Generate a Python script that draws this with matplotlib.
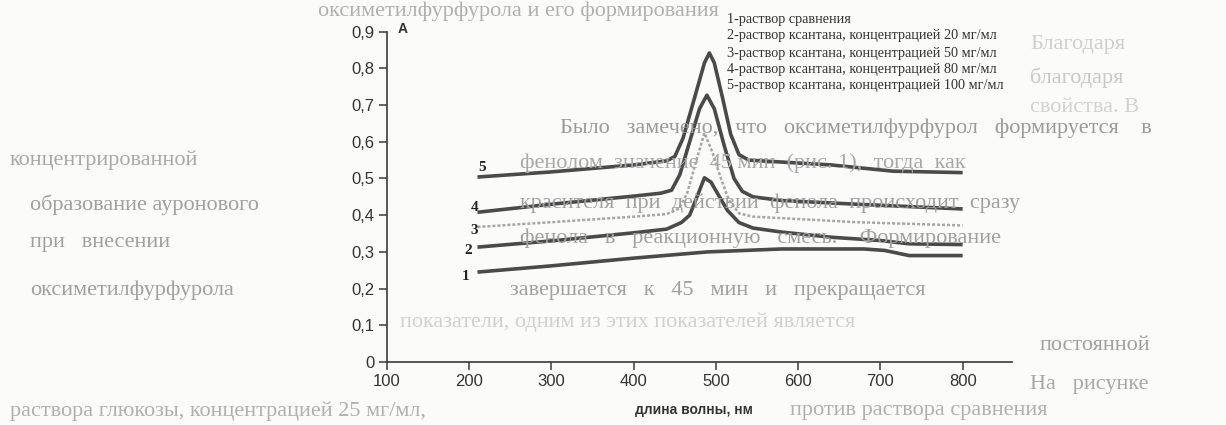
import numpy as np
import matplotlib
matplotlib.use("Agg")
import matplotlib.pyplot as plt
from matplotlib.ticker import FuncFormatter

# spectra (wavelength, nm / absorbance)
wl1 = [210, 300, 400, 490, 580, 680, 705, 735, 800]
a1 = [0.245, 0.262, 0.283, 0.300, 0.308, 0.308, 0.304, 0.290, 0.290]

wl2 = [210, 300, 400, 440, 458, 468, 477, 486, 494, 503, 514, 528, 545, 580, 640, 700, 735, 800]
a2 = [0.313, 0.330, 0.352, 0.362, 0.380, 0.400, 0.450, 0.502, 0.490, 0.455, 0.413, 0.380, 0.365, 0.354, 0.340, 0.331, 0.322, 0.320]

wl3 = [210, 300, 400, 440, 455, 465, 475, 486, 496, 506, 516, 528, 545, 580, 670, 800]
a3 = [0.368, 0.381, 0.396, 0.403, 0.418, 0.460, 0.540, 0.624, 0.570, 0.500, 0.440, 0.405, 0.396, 0.392, 0.381, 0.372]

wl4 = [210, 300, 400, 433, 446, 456, 468, 480, 489, 498, 510, 522, 532, 545, 580, 670, 800]
a4 = [0.408, 0.430, 0.452, 0.460, 0.468, 0.510, 0.600, 0.690, 0.727, 0.690, 0.590, 0.500, 0.465, 0.450, 0.440, 0.430, 0.417]

wl5 = [210, 300, 400, 440, 450, 460, 474, 486, 492, 498, 508, 518, 528, 540, 640, 715, 800]
a5 = [0.504, 0.518, 0.537, 0.548, 0.560, 0.610, 0.720, 0.815, 0.842, 0.815, 0.720, 0.620, 0.565, 0.550, 0.537, 0.520, 0.516]

curve_labels = ["1", "2", "3", "4", "5"]
label_x = [196, 199, 206, 206, 216]
label_y = [0.233, 0.305, 0.358, 0.422, 0.530]

legend_lines = [
    "1-раствор сравнения",
    "2-раствор ксантана, концентрацией 20 мг/мл",
    "3-раствор ксантана, концентрацией 50 мг/мл",
    "4-раствор ксантана, концентрацией 80 мг/мл",
    "5-раствор ксантана, концентрацией 100 мг/мл",
]

# faint page text of the scan behind the figure, split round the chart labels
page_text = [
    (318, 11, "оксиметилфурфурола и его формирования", "#b0b0b0"),
    (1030, 45, "Благодаря", "#cfcfcf"),
    (1030, 78, "благодаря", "#c8c8c8"),
    (1030, 108, "свойства. В", "#d2d2d2"),
    (560, 128, "Было   замечено,   что   оксиметилфурфурол   формируется    в", "#9a9a9a"),
    (10, 160, "концентрированной", "#a8a8a8"),
    (520, 163, "фенолом  значение  45 мин  (рис. 1),  тогда  как", "#a8a8a8"),
    (30, 205, "образование ауронового", "#a0a0a0"),
    (520, 203, "красителя  при  действии  фенола  происходит  сразу", "#a0a0a0"),
    (30, 242, "при   внесении", "#a0a0a0"),
    (520, 238, "фенола   в   реакционную   смесь.    Формирование", "#a0a0a0"),
    (30, 290, "оксиметилфурфурола", "#a0a0a0"),
    (510, 290, "завершается   к   45   мин   и   прекращается", "#a0a0a0"),
    (400, 322, "показатели, одним из этих показателей является", "#d0d0d0"),
    (1040, 345, "постоянной", "#a0a0a0"),
    (1030, 385, "На   рисунке", "#a8a8a8"),
    (10, 411, "раствора глюкозы, концентрацией 25 мг/мл,", "#b0b0b0"),
    (790, 411, "против раствора сравнения", "#b0b0b0"),
]

W, H = 1226, 425
fig = plt.figure(figsize=(W / 100, H / 100), dpi=100)
fig.patch.set_facecolor("#fbfbfa")

for px, py, s, c in page_text:
    fig.text(px / W, 1 - py / H, s, fontsize=16, family="Liberation Serif",
             color=c, ha="left", va="center", zorder=0)

ax = fig.add_axes([387 / W, 1 - 362 / H, (1012 - 387) / W, (362 - 31.7) / H])
ax.patch.set_alpha(0)

dark = "#4a4a4a"
ax.plot(wl1, a1, color=dark, lw=2.6, solid_capstyle="butt")
ax.plot(wl2, a2, color=dark, lw=2.6, solid_capstyle="butt")
ax.plot(wl3, a3, color="#a6a6a6", lw=1.8, ls=(0, (1.2, 0.8)))
ax.plot(wl4, a4, color=dark, lw=2.6, solid_capstyle="butt")
ax.plot(wl5, a5, color=dark, lw=2.6, solid_capstyle="butt")

for lab, lx, ly in zip(curve_labels, label_x, label_y):
    ax.text(lx, ly, lab, fontsize=11, fontweight="bold", family="Liberation Serif",
            color="#222222", ha="center", va="center")

ax.set_xlim(100, 860)
ax.set_ylim(0, 0.9)
ax.set_xticks([100, 200, 300, 400, 500, 600, 700, 800])
ax.set_yticks(np.arange(0, 0.91, 0.1))
ax.yaxis.set_major_formatter(FuncFormatter(
    lambda v, p: "0" if abs(v) < 1e-9 else ("%.1f" % v).replace(".", ",")))

for s in ["top", "right"]:
    ax.spines[s].set_visible(False)
for s in ["left", "bottom"]:
    ax.spines[s].set_color("#3a3a3a")
    ax.spines[s].set_linewidth(1.2)
ax.tick_params(axis="both", direction="out", length=6, width=1.1, color="#3a3a3a",
               labelsize=12, labelcolor="#333333", pad=3)
for t in ax.get_xticklabels() + ax.get_yticklabels():
    t.set_family("Liberation Sans")

fig.text(398 / W, 1 - 29 / H, "A", fontsize=10, fontweight="bold",
         family="Liberation Sans", color="#333333", ha="left", va="center")
fig.text(694 / W, 1 - 410 / H, "длина волны, нм", fontsize=10, fontweight="bold",
         family="Liberation Sans", color="#333333", ha="center", va="center")

leg_y = [20, 36, 53, 70, 86]
for s, ly in zip(legend_lines, leg_y):
    fig.text(727 / W, 1 - ly / H, s, fontsize=10.3, family="Liberation Serif",
             color="#333333", ha="left", va="center")

fig.savefig("out.png", dpi=100, facecolor=fig.get_facecolor())
